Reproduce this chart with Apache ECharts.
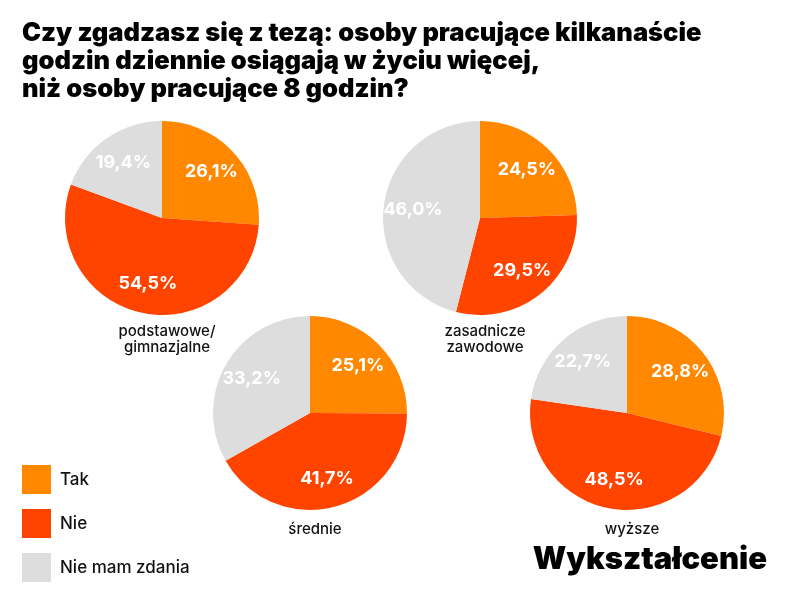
<!DOCTYPE html>
<html>
<head>
<meta charset="utf-8">
<script src="https://cdn.jsdelivr.net/npm/echarts@6/dist/echarts.min.js"></script>
<style>
  html, body { margin: 0; padding: 0; background: #fff; }
  #chart { width: 800px; height: 600px; }
</style>
</head>
<body>
<div id="chart"></div>
<script>
var categories = ['podstawowe/\ngimnazjalne', 'zasadnicze\nzawodowe', 'średnie', 'wyższe'];
var answers = ['Tak', 'Nie', 'Nie mam zdania'];
var tak = [26.1, 24.5, 25.1, 28.8];
var nie = [54.5, 29.5, 41.7, 48.5];
var brak = [19.4, 46.0, 33.2, 22.7];

var colors = ['#FF8800', '#FF4400', '#DDDDDD'];
var centers = [[162, 218], [480, 218], [310, 413], [627, 413]];
var labelTops = [318, 318, 516, 516];
var font = 'Inter, "Noto Sans", sans-serif';

var chart = echarts.init(document.getElementById('chart'));

var titles = [{
    text: 'Czy zgadzasz się z tezą: osoby pracujące kilkanaście\ngodzin dziennie osiągają w życiu więcej,\nniż osoby pracujące 8 godzin?',
    left: 17,
    top: 14,
    textStyle: { fontFamily: font, fontSize: 25.5, fontWeight: 900, color: '#000', lineHeight: 28 }
}, {
    text: 'Wykształcenie',
    right: 28,
    top: 539,
    textStyle: { fontFamily: font, fontSize: 31, fontWeight: 900, color: '#000' }
}];

var series = [];
categories.forEach(function (cat, i) {
    titles.push({
        text: cat,
        left: centers[i][0],
        top: labelTops[i],
        textAlign: 'center',
        textStyle: { fontFamily: font, fontSize: 15, fontWeight: 500, color: '#111', lineHeight: 16 }
    });
    var data = [
        { name: answers[0], value: tak[i] },
        { name: answers[1], value: nie[i] },
        { name: answers[2], value: brak[i] }
    ];
    // the pie itself
    series.push({
        type: 'pie',
        name: cat,
        center: centers[i],
        radius: [0, 97],
        startAngle: 90,
        clockwise: true,
        animation: false,
        label: { show: false },
        labelLine: { show: false },
        itemStyle: { borderWidth: 0 },
        emphasis: { disabled: true },
        data: data
    });
    // transparent ring that only carries the labels, a bit further out
    series.push({
        type: 'pie',
        name: cat + ' labels',
        center: centers[i],
        radius: [32, 97],
        startAngle: 90,
        clockwise: true,
        silent: true,
        animation: false,
        itemStyle: { color: 'transparent', borderWidth: 0 },
        labelLine: { show: false },
        label: {
            show: true,
            position: 'inside',
            color: '#fff',
            fontFamily: font,
            fontSize: 18,
            fontWeight: 700,
            formatter: function (p) { return p.value.toFixed(1).replace('.', ',') + '%'; }
        },
        emphasis: { disabled: true },
        data: data
    });
});

var option = {
    backgroundColor: '#fff',
    color: colors,
    title: titles,
    legend: {
        data: answers,
        orient: 'vertical',
        left: 22,
        top: 465,
        padding: 0,
        icon: 'rect',
        itemWidth: 29,
        itemHeight: 29,
        itemGap: 15,
        textStyle: { fontFamily: font, fontSize: 17, fontWeight: 500, color: '#111', padding: [0, 0, 0, 4] }
    },
    series: series
};
chart.setOption(option);
</script>
</body>
</html>
